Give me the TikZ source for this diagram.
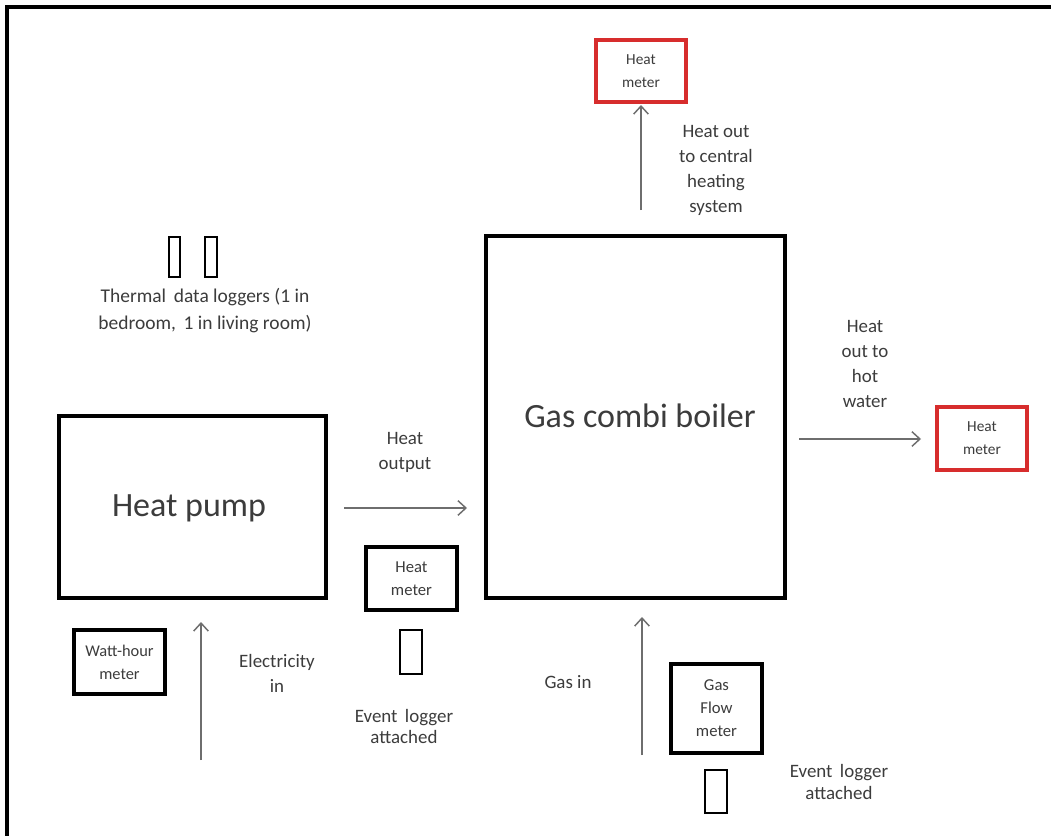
\documentclass[tikz,border=0pt]{standalone}
\usepackage{fontspec}
\setmainfont{Carlito}
\usetikzlibrary{arrows.meta}
\definecolor{txt}{RGB}{60,60,60}
\definecolor{redbox}{RGB}{215,45,45}
\definecolor{arrowgrey}{RGB}{110,110,110}
\tikzset{
  box/.style={draw=black, line width=2.4pt, rectangle, inner sep=0pt, outer sep=0pt, align=center, text=txt},
  redmeter/.style={draw=redbox, line width=2.4pt, rectangle, inner sep=0pt, outer sep=0pt, align=center, text=txt,
     minimum width=90*0.75pt, minimum height=62*0.75pt, font=\fontsize{11.5}{17.25}\selectfont},
  logger/.style={draw=black, line width=2pt, rectangle, inner sep=0pt, outer sep=0pt},
  lbl/.style={text=txt, align=center, inner sep=0pt, font=\fontsize{14.2}{18.75}\selectfont},
  arr/.style={draw=arrowgrey, line width=1.2pt, -{Straight Barb[length=6pt,width=11pt,line width=1.1pt]}},
  big/.style={font=\fontsize{25.5}{30}\selectfont}
}
\begin{document}
\begin{tikzpicture}[x=0.75pt,y=-0.75pt]
\useasboundingbox (0,0) rectangle (1051,836);
\fill[white] (0,0) rectangle (1051,836);
% frame
\draw[line width=3pt, line cap=butt] (1051,7) -- (6.5,7) -- (6.5,836);

% main boxes
\node[box, minimum width=299*0.75pt, minimum height=362*0.75pt] (boiler) at (635.5,417) {};
\node[text=txt, big, inner sep=0pt] (boilertxt) at (640,416) {Gas combi boiler};
\node[box, minimum width=267*0.75pt, minimum height=182*0.75pt] (hp) at (192.5,507) {};
\node[text=txt, big, inner sep=0pt] (hptxt) at (189,508) {Heat pump};

% red heat meters
\node[redmeter] (hmtop) at (641,71) {Heat\\meter};
\node[redmeter, minimum height=63*0.75pt] (hmright) at (982,438.5) {Heat\\meter};

% black meters
\node[box, minimum width=91*0.75pt, minimum height=63*0.75pt, font=\fontsize{12.5}{17.25}\selectfont] (hmmid) at (411.5,578.5) {Heat\\meter};
\node[box, minimum width=91*0.75pt, minimum height=64*0.75pt, font=\fontsize{12.3}{17.25}\selectfont] (watt) at (119.5,662) {Watt-hour\\meter};
\node[box, minimum width=91*0.75pt, minimum height=89*0.75pt, font=\fontsize{12.5}{17.25}\selectfont] (gasflow) at (716.5,708.5) {Gas\\Flow\\meter};

% loggers
\node[logger, minimum width=11*0.75pt, minimum height=40*0.75pt] (lg1) at (174.5,257) {};
\node[logger, minimum width=12*0.75pt, minimum height=40*0.75pt] (lg2) at (211,257) {};
\node[logger, minimum width=22*0.75pt, minimum height=44*0.75pt] (ev1) at (411,652) {};
\node[logger, minimum width=22*0.75pt, minimum height=43*0.75pt] (ev2) at (716,791.5) {};

% labels
\node[lbl] (lcentral) at (716,170) {Heat out\\to central\\heating\\system};
\node[lbl, font=\fontsize{14.6}{20}\selectfont] (lthermal) at (205,310.5) {Thermal\, data loggers (1 in\\bedroom,\, 1 in living room)};
\node[lbl] (loutput) at (405,452) {Heat\\output};
\node[lbl] (lhot) at (865,364) {Heat\\out to\\hot\\water};
\node[lbl] (lelec) at (277,673) {Electricity\\in};
\node[lbl] (lgas) at (568,682) {Gas in};
\node[lbl, font=\fontsize{14.2}{16}\selectfont] (lev1) at (404,726.5) {Event\, logger\\attached};
\node[lbl, font=\fontsize{14.2}{16}\selectfont] (lev2) at (839,782) {Event\, logger\\attached};

% arrow ends
\coordinate (aCentral) at (641,210);
\coordinate (aOutS) at (344,508);
\coordinate (aOutE) at (467,508);
\coordinate (aHotS) at (799,439);
\coordinate (aHotE) at (921,439);
\coordinate (aElecS) at (201,760);
\coordinate (aElecE) at (201,622);
\coordinate (aGasS) at (642,755);
\coordinate (aGasE) at (642,617);

\draw[arr, shorten >=3*0.75pt] (aCentral) -- (hmtop.south);
\draw[arr] (aOutS) -- (aOutE);
\draw[arr] (aHotS) -- (aHotE);
\draw[arr] (aElecS) -- (aElecE);
\draw[arr] (aGasS) -- (aGasE);
\end{tikzpicture}
\end{document}
